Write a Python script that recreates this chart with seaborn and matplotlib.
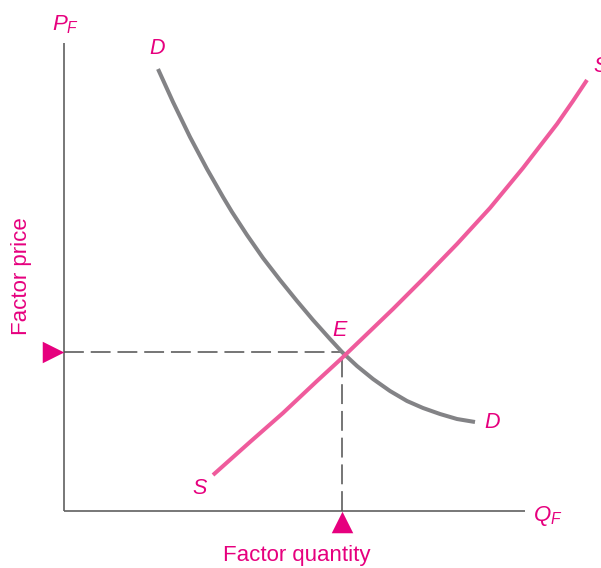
import numpy as np
import pandas as pd
import matplotlib
matplotlib.use("Agg")
import matplotlib.pyplot as plt
import seaborn as sns

# curve points (quantity, price)
demand_q = [9.4, 10.9, 12.6, 14.3, 15.9, 16.8, 18.3, 19.9, 21.6, 23.3, 24.9, 26.6,
            27.8, 29.3, 30.9, 32.6, 34.3, 35.9, 37.6, 39.3, 41.1]
demand_p = [44.2, 40.9, 37.4, 34.2, 31.4, 29.9, 27.6, 25.3, 23.1, 21.0, 19.1, 17.2,
            15.9, 14.5, 13.2, 12.0, 11.0, 10.3, 9.7, 9.2, 8.9]
supply_q = [14.9, 18.6, 21.9, 25.3, 27.8, 30.3, 32.9, 35.9, 39.3, 42.6, 45.9, 49.3, 50.9, 52.3]
supply_p = [3.6, 6.9, 9.8, 13.0, 15.3, 17.7, 20.2, 23.2, 26.7, 30.3, 34.3, 38.7, 41.0, 43.1]

# equilibrium E
eq_q = 27.8
eq_p = 15.9

q_max = 46.1
p_max = 46.8

pink = "#e6007e"
supply_col = "#ef5b9c"
demand_col = "#838386"

sns.set_style("white")
plt.rcParams['font.family'] = ['Liberation Sans', 'DejaVu Sans']
plt.rcParams['mathtext.fontset'] = 'custom'
plt.rcParams['mathtext.it'] = 'Liberation Sans:italic'
plt.rcParams['mathtext.rm'] = 'Liberation Sans'

fig = plt.figure(figsize=(6.01, 5.68), dpi=100)
ax = fig.add_axes([0, 0, 1, 1])
ax.set_xlim(-6.4, 53.7)
ax.set_ylim(-5.7, 51.1)
ax.axis('off')

# axes
ax.plot([0, 0], [0, p_max], color="#606060", lw=1.2, solid_capstyle='butt')
ax.plot([0, q_max], [0, 0], color="#606060", lw=1.2, solid_capstyle='butt')

# dashed guides
ax.plot([0, eq_q], [eq_p, eq_p], color="#505050", lw=1.1, dashes=(13, 4.5))
ax.plot([eq_q, eq_q], [0, eq_p], color="#505050", lw=1.1, dashes=(13, 4.5))

df_d = pd.DataFrame({'q': demand_q, 'p': demand_p})
df_s = pd.DataFrame({'q': supply_q, 'p': supply_p})
sns.lineplot(data=df_d, x='q', y='p', sort=False, color=demand_col, lw=2.9, ax=ax,
             solid_capstyle='butt', solid_joinstyle='round')
sns.lineplot(data=df_s, x='q', y='p', sort=False, color=supply_col, lw=2.9, ax=ax,
             solid_capstyle='butt', solid_joinstyle='round')

# triangle markers
ax.scatter([-1.15], [eq_p], marker='>', s=240, color=pink, clip_on=False, zorder=5, linewidths=0)
ax.scatter([eq_q], [-1.05], marker='^', s=240, color=pink, clip_on=False, zorder=5, linewidths=0)

# labels
ax.text(-1.2, 48.1, r'$\mathit{P}_{\mathit{F}}$', color=pink, fontsize=16, ha='left', va='baseline')
ax.text(46.9, -1.0, r'$\mathit{Q}_{\mathit{F}}$', color=pink, fontsize=16, ha='left', va='baseline')
ax.text(9.3, 46.3, 'D', color=pink, fontsize=15.5, style='italic', ha='center', va='center')
ax.text(42.8, 8.8, 'D', color=pink, fontsize=15.5, style='italic', ha='center', va='center')
ax.text(52.9, 43.9, 'S', color=pink, fontsize=15.5, style='italic', ha='left', va='baseline')
ax.text(13.6, 2.25, 'S', color=pink, fontsize=15.5, style='italic', ha='center', va='center')
ax.text(27.6, 18.0, 'E', color=pink, fontsize=15.5, style='italic', ha='center', va='center')
ax.text(-4.25, 23.5, 'Factor price', color=pink, fontsize=16, rotation=90, ha='center', va='center')
ax.text(23.3, -4.5, 'Factor quantity', color=pink, fontsize=16, ha='center', va='center')

fig.savefig("out.png", dpi=100)
